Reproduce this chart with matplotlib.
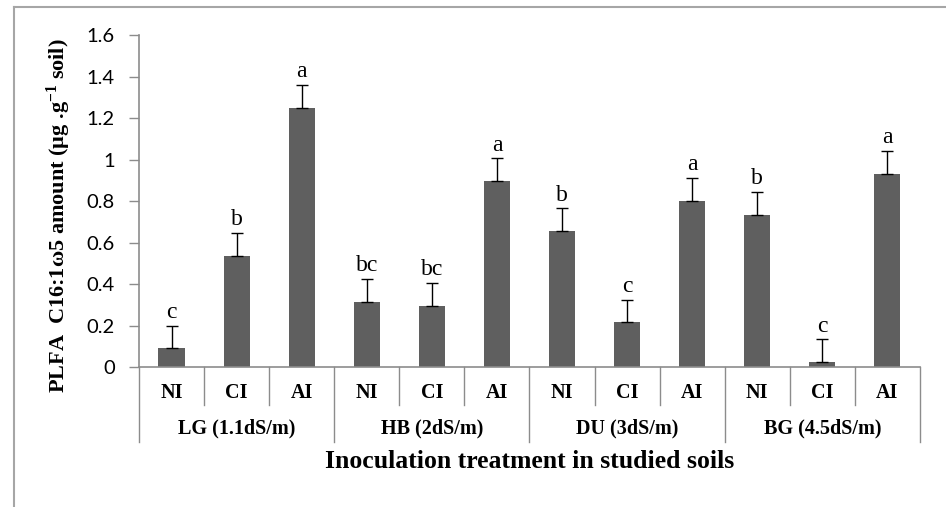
import matplotlib
matplotlib.use("Agg")
import matplotlib.pyplot as plt
import matplotlib.transforms as mtransforms
from matplotlib.lines import Line2D
import numpy as np

soils = ["LG (1.1dS/m)", "HB (2dS/m)", "DU (3dS/m)", "BG (4.5dS/m)"]
treatments = ["NI", "CI", "AI"]
values = [0.09, 0.535, 1.25,
          0.315, 0.295, 0.895,
          0.655, 0.215, 0.80,
          0.735, 0.023, 0.93]
errors = [0.11, 0.11, 0.11,
          0.11, 0.11, 0.11,
          0.11, 0.11, 0.11,
          0.11, 0.11, 0.11]
letters = ["c", "b", "a",
           "bc", "bc", "a",
           "b", "c", "a",
           "b", "c", "a"]
yticks = [0, 0.2, 0.4, 0.6, 0.8, 1, 1.2, 1.4, 1.6]
ytick_labels = ["0", "0.2", "0.4", "0.6", "0.8", "1", "1.2", "1.4", "1.6"]

SERIF = "Liberation Serif"
SANS = "Lato"
BAR = "#5f5f5f"
AXIS = "#8c8c8c"

# superscript in the y label should stay in bold serif
plt.rcParams.update({"mathtext.fontset": "custom",
                     "mathtext.rm": "Liberation Serif:bold",
                     "mathtext.it": "Liberation Serif:bold",
                     "mathtext.bf": "Liberation Serif:bold"})

fig = plt.figure(figsize=(9.46, 5.07), dpi=100)
ax = fig.add_axes([0.1469, 0.2761, 0.8256, 0.6548])

x = np.arange(len(values))
ax.bar(x, values, width=0.4, color=BAR, zorder=2)
ax.errorbar(x, values, yerr=[np.zeros(len(errors)), errors], fmt="none",
            ecolor="black", elinewidth=1.0, capsize=4, capthick=1.0, zorder=3)

# significance letters above each error bar
for xi, v, e, lab in zip(x, values, errors, letters):
    ax.annotate(lab, xy=(xi, v + e), xytext=(0, 2), textcoords="offset points",
                ha="center", va="bottom", fontsize=17, family=SERIF)

ax.set_xlim(-0.5, len(values) - 0.5)
ax.set_ylim(0, 1.6)
ax.set_yticks(yticks)
ax.set_yticklabels(ytick_labels, fontsize=14.5, family=SANS)
ax.set_xticks([])
ax.tick_params(axis="y", direction="out", length=7.5, width=1, color=AXIS, pad=10)

for s in ["top", "right"]:
    ax.spines[s].set_visible(False)
for s in ["left", "bottom"]:
    ax.spines[s].set_color(AXIS)
    ax.spines[s].set_linewidth(1.2)

# two-level category axis drawn below the plot
trans = mtransforms.blended_transform_factory(ax.transData, ax.transAxes)
for i in range(len(values) + 1):
    bx = i - 0.5
    depth = -0.226 if i % 3 == 0 else -0.1145
    ax.add_line(Line2D([bx, bx], [0, depth], transform=trans, color=AXIS,
                       lw=1.0, clip_on=False))
for xi in x:
    ax.text(xi, -0.078, treatments[xi % 3], transform=trans, ha="center",
            va="center", fontsize=14.5, fontweight="bold", family=SERIF)
for g, name in enumerate(soils):
    ax.text(g * 3 + 1, -0.184, name, transform=trans, ha="center",
            va="center", fontsize=14.5, fontweight="bold", family=SERIF)

fig.text(0.56, 0.089, "Inoculation treatment in studied soils", ha="center",
         va="center", fontsize=18.5, fontweight="bold", family=SERIF)
fig.text(0.062, 0.574, "PLFA  C16:1ω5 amount (µg .g$^{-1}$ soil)",
         rotation=90, ha="center", va="center", fontsize=16,
         fontweight="bold", family=SERIF)

# chart-area frame (only top and left visible in the crop)
fig.add_artist(Line2D([14 / 946, 14 / 946], [0, 1 - 7 / 507],
                      transform=fig.transFigure, color="#a6a6a6", lw=1.5))
fig.add_artist(Line2D([14 / 946, 1], [1 - 7 / 507, 1 - 7 / 507],
                      transform=fig.transFigure, color="#a6a6a6", lw=1.5))

fig.savefig("out.png", dpi=100)
